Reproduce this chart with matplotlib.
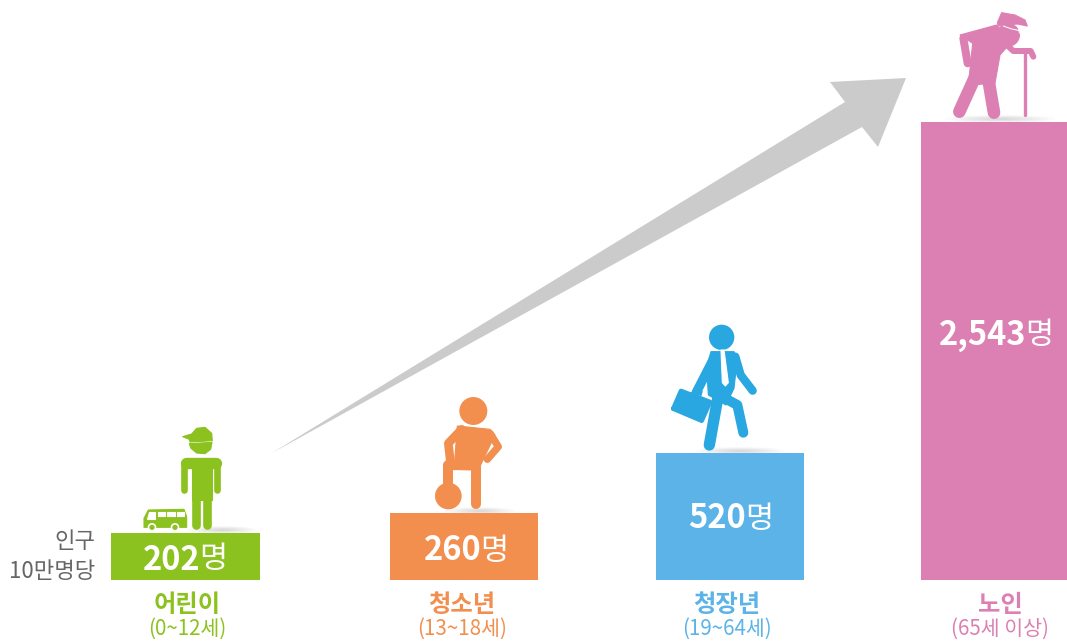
import matplotlib
matplotlib.use("Agg")
import matplotlib.pyplot as plt
from matplotlib.patches import Polygon, Circle, Ellipse

# ---- data ----
groups = ["어린이", "청소년", "청장년", "노인"]
ages = ["(0~12세)", "(13~18세)", "(19~64세)", "(65세 이상)"]
values = ["202", "260", "520", "2,543"]
# The infographic's bars are not to a true scale: drawn heights
drawn_heights = [46.5, 66.5, 126.5, 457.5]
colors = ["#8CC21F", "#F28F4E", "#5CB3E8", "#DC80B3"]

BASE = 579.5
FONT = ["Noto Sans CJK KR", "DejaVu Sans"]
plt.rcParams["font.family"] = FONT

fig = plt.figure(figsize=(10.67, 6.41), dpi=100)
ax = fig.add_axes([0, 0, 1, 1])
ax.set_xlim(0, 1067)
ax.set_ylim(BASE - 641, BASE)
ax.axis("off")


def Y(py):
    return BASE - py


def zm(origin, pts):
    """zoomed-crop coordinates to axes coordinates"""
    return [(origin[0] + x / 3, Y(origin[1] + y / 3)) for x, y in pts]


def limb(origin, pts, w, c, z=3):
    p = zm(origin, pts)
    ax.plot([a for a, _ in p], [b for _, b in p], color=c, lw=w / 3 * 0.72,
            solid_capstyle="round", solid_joinstyle="round", zorder=z)


def poly(origin, pts, c, z=3):
    ax.add_patch(Polygon(zm(origin, pts), closed=True, fc=c, ec=c, lw=0.8,
                         joinstyle="round", zorder=z))


def circ(origin, xy, r, c, z=3):
    ax.add_patch(Circle(zm(origin, [xy])[0], r / 3, fc=c, ec="none", zorder=z))


def shadow(xc, py, w):
    for k in range(8):
        f = 1 - k / 8
        ax.add_patch(Ellipse((xc, Y(py)), w * f, 8 * f, fc="#000000", ec="none",
                             alpha=0.018, zorder=1))


# ---- bars ----
lefts = [111, 390, 656, 921]
rights = [260, 538, 804, 1067]
centers = [(a + b) / 2 for a, b in zip(lefts, rights)]
widths = [b - a for a, b in zip(lefts, rights)]
ax.bar(centers, drawn_heights, width=widths, color=colors, zorder=2)

# ---- arrow ----
ax.add_patch(Polygon([(272, Y(453)), (845, Y(102)), (830, Y(82)), (906, Y(78)),
                      (878, Y(147)), (862, Y(127))], closed=True,
                     fc="#CBCBCB", ec="none", zorder=1))

# ---- value labels ----
num_x = [200.5, 481.5, 746, 1026]
val_y = [560, 551, 519, 335]
for v, x, y in zip(values, num_x, val_y):
    ax.text(x, Y(y), v, color="white", fontsize=23.5, fontweight="bold",
            ha="right", va="center", zorder=5)
    ax.text(x - 1, Y(y), "명", color="white", fontsize=22, fontweight="regular",
            ha="left", va="center", zorder=5)

# ---- category labels ----
label_x = [187.5, 462, 727, 1000]
for g, a, x, c in zip(groups, ages, label_x, colors):
    ax.text(x, Y(605), g, color=c, fontsize=17.5, fontweight="bold", ha="center", va="center")
    ax.text(x, Y(629), a, color=c, fontsize=14.8, ha="center", va="center")

ax.text(95, Y(541), "인구", color="#666666", fontsize=16, ha="right", va="center")
ax.text(95, Y(571), "10만명당", color="#666666", fontsize=16, ha="right", va="center")

# ---- shadows under the figures ----
shadow(222, 530, 70)
shadow(480, 511, 70)
shadow(740, 451, 90)
shadow(1000, 119, 110)

# ---- child + bus ----
G = colors[0]
o = (0, 420)
poly(o, [(548, 50), (575, 42), (590, 25), (615, 22), (635, 40), (637, 62), (570, 66), (568, 58)], G)
poly(o, [(568, 71), (636, 67), (632, 88), (615, 101), (590, 99), (573, 85)], G)
limb(o, [(558, 130), (648, 130)], 34, G)
poly(o, [(575, 125), (635, 125), (635, 240), (575, 240)], G)
limb(o, [(553, 130), (553, 210)], 20, G)
limb(o, [(651, 130), (651, 210)], 20, G)
limb(o, [(588, 200), (588, 314)], 26, G)
limb(o, [(621, 200), (621, 314)], 26, G)
poly(o, [(432, 322), (432, 295), (445, 270), (552, 268), (560, 290), (560, 322)], G)
for x0 in (473, 502, 530):
    poly(o, [(x0, 276), (x0 + 22, 276), (x0 + 22, 288), (x0, 288)], "white", 4)
poly(o, [(446, 276), (466, 276), (466, 298), (442, 298)], "white", 4)
for cx in (456, 525):
    circ(o, (cx, 322), 13, "white", 4)
    circ(o, (cx, 322), 8, G, 5)

# ---- teen + ball ----
C = colors[1]
o = (380, 390)
circ(o, (280, 63), 42, C)
poly(o, [(232, 108), (330, 118), (345, 135), (302, 225), (295, 240), (222, 238)], C)
limb(o, [(245, 118), (205, 160), (212, 222)], 26, C)
limb(o, [(330, 130), (355, 170), (322, 208)], 22, C)
limb(o, [(205, 225), (275, 225)], 28, C)
limb(o, [(205, 225), (205, 300)], 30, C)
limb(o, [(288, 230), (288, 342)], 30, C)
circ(o, (205, 318), 40, C)

# ---- adult + briefcase ----
B = "#29A7E1"
o = (650, 320)
circ(o, (215, 52), 38, B)
poly(o, [(183, 95), (252, 95), (262, 115), (252, 205), (228, 255), (175, 225), (170, 140)], B)
limb(o, [(195, 108), (140, 215)], 28, B)
limb(o, [(256, 110), (272, 165), (308, 212)], 25, B)
limb(o, [(205, 225), (178, 375)], 34, B)
limb(o, [(225, 235), (262, 255), (280, 338)], 30, B)
poly(o, [(213, 90), (222, 90), (235, 188), (226, 198), (217, 188)], "white", 4)
limb(o, [(70, 266), (93, 213), (180, 246), (155, 302), (70, 266)], 14, B)
poly(o, [(70, 266), (93, 213), (180, 246), (155, 302)], B)
limb(o, [(125, 220), (135, 205), (155, 215), (150, 232)], 6, B)

# ---- senior + cane ----
P = colors[3]
o = (900, 0)
circ(o, (325, 105), 35, P)
poly(o, [(305, 38), (345, 45), (375, 60), (382, 78), (352, 72), (295, 78), (292, 68)], P)
limb(o, [(310, 78), (332, 86), (358, 92)], 3, "white", 4)
limb(o, [(356, 88), (358, 100)], 2.5, "white", 4)
poly(o, [(180, 105), (290, 75), (335, 125), (300, 165), (285, 250), (205, 255), (218, 130)], P)
limb(o, [(190, 115), (203, 190)], 24, P)
limb(o, [(228, 225), (178, 335)], 38, P)
limb(o, [(262, 220), (282, 338)], 38, P)
limb(o, [(310, 125), (340, 153), (392, 153), (400, 170)], 18, P)
limb(o, [(376, 160), (376, 345)], 10, P)

fig.savefig("out.png", dpi=100)
